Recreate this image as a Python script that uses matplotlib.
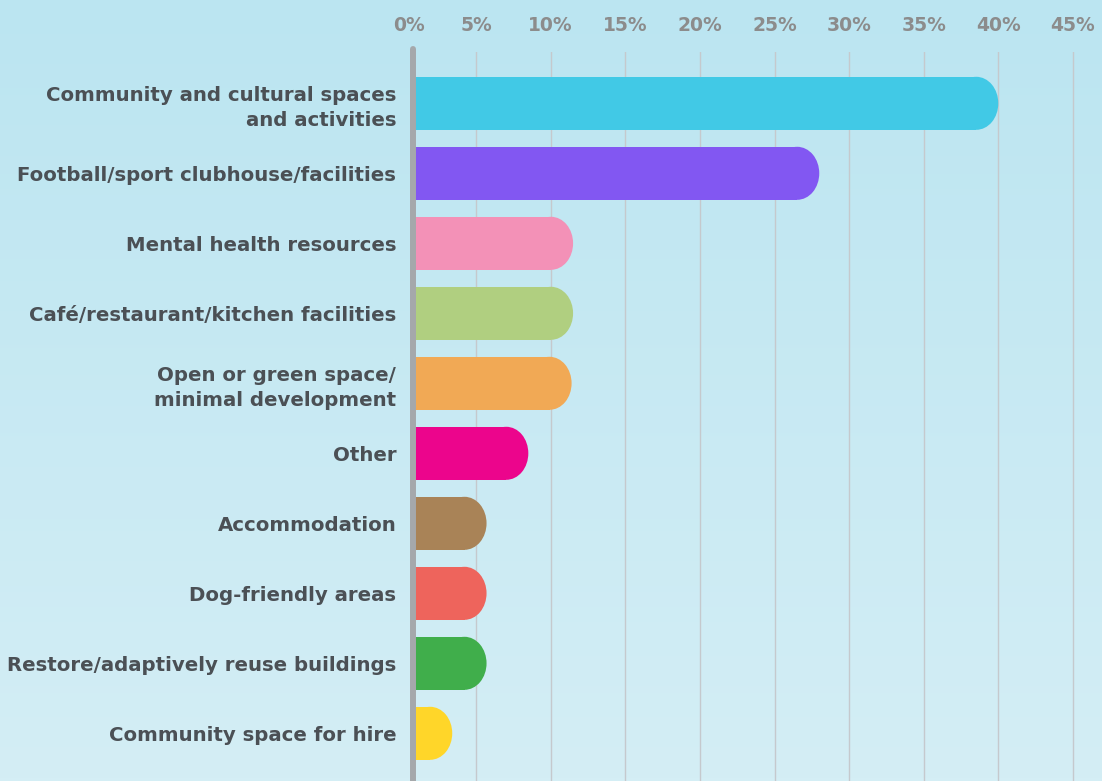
import matplotlib
matplotlib.use("Agg")
import matplotlib.pyplot as plt
import numpy as np
from matplotlib.patches import Ellipse
from matplotlib.colors import LinearSegmentedColormap
from matplotlib.transforms import blended_transform_factory

# ---- data ----
categories = [
    "Community and cultural spaces\nand activities",
    "Football/sport clubhouse/facilities",
    "Mental health resources",
    "Café/restaurant/kitchen facilities",
    "Open or green space/\nminimal development",
    "Other",
    "Accommodation",
    "Dog-friendly areas",
    "Restore/adaptively reuse buildings",
    "Community space for hire",
]
values = [40.0, 28.0, 11.5, 11.5, 11.4, 8.5, 5.7, 5.7, 5.7, 3.4]
colors = ["#41C9E6", "#8257F2", "#F391B7", "#B0CF80", "#F1A955",
          "#EC058C", "#A98357", "#EE645C", "#40AE4B", "#FFD629"]
tick_values = [0, 5, 10, 15, 20, 25, 30, 35, 40, 45]
tick_labels = [f"{t}%" for t in tick_values]

# ---- layout (pixels) ----
W, H = 1102, 781
DPI = 100
zero_px = 401.5
px_per_unit = 14.92
ax_left_px = 413
ax_top_px = 52
row0_px = 103.3
row_px = 70.0
bar_h = 53 / 70
rx_px = 22

fig = plt.figure(figsize=(W / DPI, H / DPI), dpi=DPI)

# background gradient
bg = fig.add_axes([0, 0, 1, 1], zorder=-10)
grad = np.linspace(0, 1, 256).reshape(-1, 1)
cmap = LinearSegmentedColormap.from_list("bg", ["#BBE5F1", "#D4EEF5"])
bg.imshow(grad, aspect="auto", cmap=cmap, extent=[0, 1, 0, 1], origin="upper")
bg.axis("off")

ax = fig.add_axes([ax_left_px / W, 0, (W - ax_left_px) / W, (H - ax_top_px) / H])
ax.set_facecolor("none")
x_left = (ax_left_px - zero_px) / px_per_unit
x_right = (W - zero_px) / px_per_unit
ax.set_xlim(x_left, x_right)
y_top = (ax_top_px - row0_px) / row_px
y_bot = (H - row0_px) / row_px
ax.set_ylim(y_bot, y_top)

ypos = np.arange(len(categories))
rx = rx_px / px_per_unit
ax.barh(ypos, [v - rx for v in values], left=0, height=bar_h, color=colors,
        zorder=3, linewidth=0)
for y, v, c in zip(ypos, values, colors):
    ax.add_patch(Ellipse((v - rx, y), 2 * rx, bar_h, facecolor=c,
                         edgecolor="none", zorder=3))

for s in ax.spines.values():
    s.set_visible(False)

# gridlines
ax.set_xticks(tick_values[1:])
ax.set_xticklabels(tick_labels[1:])
ax.xaxis.tick_top()
ax.grid(axis="x", color="#C5C9CD", linewidth=1.0, zorder=1)
ax.tick_params(axis="x", length=0, pad=12, labelcolor="#8C8C8C")
for lab in ax.get_xticklabels():
    lab.set_fontweight("bold")

# 0% label at axis line
trans = blended_transform_factory(ax.transData, ax.transAxes)
zero_lab = ax.text((409 - zero_px) / px_per_unit, 1.0, tick_labels[0],
                   transform=trans, ha="center", va="bottom",
                   fontweight="bold", color="#8C8C8C", clip_on=False)

ax.set_yticks(ypos)
ax.set_yticklabels(categories, fontweight="bold", color="#4B5055",
                   linespacing=1.35)
ax.tick_params(axis="y", length=0, pad=12)

# axis line
line_top = (49 - row0_px) / row_px
ax.plot([x_left, x_left], [line_top, y_bot + 0.5], color="#A5A8AB", lw=4.3,
        solid_capstyle="round", clip_on=False, zorder=6)

# fit font sizes to the reference widths
fig.canvas.draw()
r = fig.canvas.get_renderer()
ylabs = ax.get_yticklabels()
ref = ylabs[1]
w = ref.get_window_extent(r).width
fs = ref.get_fontsize() * 378 / w
for lab in ylabs:
    lab.set_fontsize(fs)

xl = ax.get_xticklabels()
w2 = xl[1].get_window_extent(r).width  # "10%"
fs2 = xl[1].get_fontsize() * 45 / w2
for lab in xl:
    lab.set_fontsize(fs2)
zero_lab.set_fontsize(fs2)
fig.canvas.draw()
bb = xl[0].get_window_extent(r)
zy = ax.transAxes.inverted().transform((0, bb.y0))[1]
zero_lab.set_y(zy)

fig.savefig("out.png", dpi=DPI)
